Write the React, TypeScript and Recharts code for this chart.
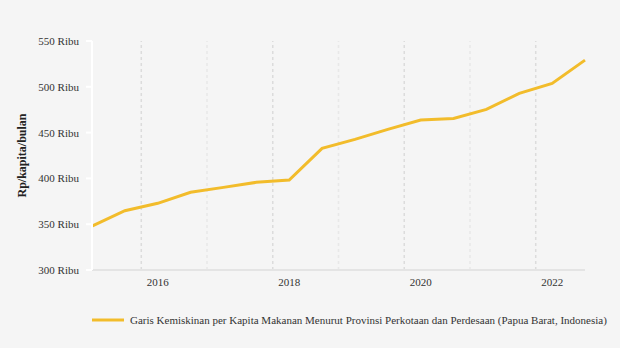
import React from 'react';
import {
  LineChart,
  Line,
  XAxis,
  YAxis,
  ReferenceLine,
  Legend,
} from 'recharts';

// semester observations, March and September
const periods = [
  'Mar 2015', 'Sep 2015', 'Mar 2016', 'Sep 2016', 'Mar 2017', 'Sep 2017',
  'Mar 2018', 'Sep 2018', 'Mar 2019', 'Sep 2019', 'Mar 2020', 'Sep 2020',
  'Mar 2021', 'Sep 2021', 'Mar 2022', 'Sep 2022',
];
const garisKemiskinan = [
  348.0, 364.7, 372.8, 384.8, 390.2, 395.7, 398.2, 432.8,
  442.6, 453.5, 463.7, 465.5, 475.3, 492.8, 503.7, 529.1,
];
const yTicks = [300, 350, 400, 450, 500, 550];
const xTickIndex = [2, 6, 10, 14];
const xTickLabels = ['2016', '2018', '2020', '2022'];
const majorGrid = [1.5, 5.5, 9.5, 13.5];
const minorGrid = [3.5, 7.5, 11.5];

const seriesName =
  'Garis Kemiskinan per Kapita Makanan Menurut Provinsi Perkotaan dan Perdesaan (Papua Barat, Indonesia)';
const lineColor = '#F2BC2B';
const font = '"Liberation Serif", "Times New Roman", serif';

const data = periods.map((p, i) => ({ idx: i, period: p, value: garisKemiskinan[i] }));

const LegendContent = () => (
  <div
    style={{
      height: 20,
      display: 'flex',
      alignItems: 'center',
      paddingLeft: 92,
      fontFamily: font,
      fontSize: 11,
      color: '#333',
      whiteSpace: 'nowrap',
    }}
  >
    <svg width={32} height={4} style={{ marginRight: 6, flexShrink: 0 }}>
      <line x1={0} y1={2} x2={32} y2={2} stroke={lineColor} strokeWidth={3} />
    </svg>
    <span>{seriesName}</span>
  </div>
);

const YLabel = (props: any) => {
  const vb = props.viewBox || {};
  const x = (vb.x || 0) + 22;
  const y = (vb.y || 0) + (vb.height || 0) / 2;
  return (
    <text
      x={x}
      y={y}
      transform={`rotate(-90 ${x} ${y})`}
      textAnchor="middle"
      dominantBaseline="central"
      fontFamily={font}
      fontSize={12}
      fontWeight="bold"
      fill="#222"
    >
      Rp/kapita/bulan
    </text>
  );
};

export default function App() {
  return (
    <div
      style={{
        position: 'absolute',
        left: 0,
        top: 0,
        width: 620,
        height: 348,
        background: '#f5f5f5',
      }}
    >
      <LineChart
        width={620}
        height={348}
        data={data}
        margin={{ top: 41, right: 35, left: 0, bottom: 18 }}
      >
        {minorGrid.map((g) => (
          <ReferenceLine key={`mi${g}`} x={g} stroke="#e8e8e8" strokeDasharray="3 3" strokeWidth={1.5} />
        ))}
        {majorGrid.map((g) => (
          <ReferenceLine key={`ma${g}`} x={g} stroke="#dcdcdc" strokeDasharray="3 3" strokeWidth={1.5} />
        ))}
        <XAxis
          dataKey="idx"
          type="number"
          domain={[0, periods.length - 1]}
          ticks={xTickIndex}
          tickFormatter={(v: number) => xTickLabels[xTickIndex.indexOf(v)] ?? ''}
          height={40}
          tickSize={0}
          tickMargin={8}
          axisLine={{ stroke: '#e4e4e4', strokeWidth: 2 }}
          tick={{ fontFamily: font, fontSize: 11, fill: '#333' }}
        />
        <YAxis
          width={92}
          domain={[300, 550]}
          ticks={yTicks}
          tickFormatter={(v: number) => `${v} Ribu`}
          tickSize={6}
          tickMargin={7}
          axisLine={{ stroke: '#ffffff', strokeWidth: 2 }}
          tickLine={{ stroke: '#ffffff', strokeWidth: 2 }}
          tick={{ fontFamily: font, fontSize: 11, fill: '#333' }}
          label={<YLabel />}
        />
        <Legend verticalAlign="bottom" align="left" content={<LegendContent />} />
        <Line
          type="linear"
          dataKey="value"
          name={seriesName}
          stroke={lineColor}
          strokeWidth={3}
          dot={false}
          isAnimationActive={false}
        />
      </LineChart>
    </div>
  );
}
